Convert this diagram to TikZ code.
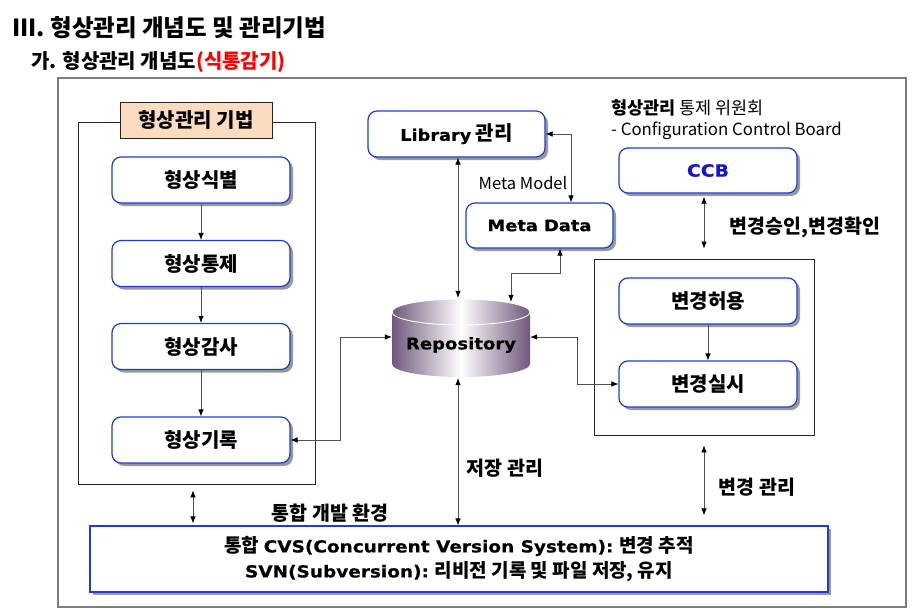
\documentclass[tikz,border=0pt]{standalone}
\usepackage{fontspec}
\setmainfont{Noto Sans CJK KR}
\newfontfamily\heavy[FakeStretch=1.12, FakeBold=0.5]{DejaVu Sans Bold}
\newcommand\heavytext[2]{{\heavy\fontsize{#1}{25}\selectfont #2}}
\usetikzlibrary{arrows.meta,shadows}

\definecolor{bluebd}{RGB}{30,60,210}
\definecolor{peach}{RGB}{252,220,192}
\definecolor{repopurple}{RGB}{112,88,124}
\definecolor{framegray}{RGB}{125,125,125}
\definecolor{linegray}{RGB}{80,80,80}
\definecolor{ccbblue}{RGB}{20,20,200}

\tikzset{
  rbox/.style={draw=bluebd, line width=1.2pt, rounded corners=9pt, fill=white,
    minimum width=178pt, minimum height=46pt, inner sep=0pt,
    font=\bfseries\fontsize{20}{24}\selectfont,
    drop shadow={shadow xshift=3pt, shadow yshift=-3pt, fill=gray!80, opacity=1}},
  conn/.style={draw=linegray, line width=0.7pt},
  tip/.tip={Latex[length=7pt,width=5.5pt,color=black]},
  both/.style={conn, tip-tip},
  fwd/.style={conn, -tip},
  frm/.style={draw=black!85, line width=0.8pt},
  lbl/.style={font=\bfseries\fontsize{19.5}{23}\selectfont, inner sep=0pt},
}

\begin{document}
\begin{tikzpicture}[x=1pt, y=-1pt]
\useasboundingbox (0,0) rectangle (919,614);

% titles
\node[anchor=west, inner sep=0pt, font=\bfseries\fontsize{23.5}{27}\selectfont] (title) at (12,28) {III. 형상관리 개념도 및 관리기법};
\node[anchor=west, inner sep=0pt, font=\bfseries\fontsize{20}{24}\selectfont] (subtitle) at (31,62) {가. 형상관리 개념도\textcolor{red}{(식통감기)}};

% outer frame
\node[draw=framegray, line width=1.8pt, minimum width=848pt, minimum height=529pt, inner sep=0pt] (outer) at (482,342.5) {};

% left technique frame
\node[frm, minimum width=237pt, minimum height=362pt, inner sep=0pt] (left) at (196.5,303) {};
\node[draw=black!85, line width=0.8pt, fill=peach, minimum width=152pt, minimum height=36pt, inner sep=0pt,
  font=\bfseries\fontsize{20}{24}\selectfont] (tech) at (196,120) {형상관리 기법};

\node[rbox] (s1) at (201,180) {형상식별};
\node[rbox] (s2) at (201,263.5) {형상통제};
\node[rbox] (s3) at (201,346.5) {형상감사};
\node[rbox] (s4) at (201,440) {형상기록};
\draw[fwd] (s1) -- (s2);
\draw[fwd] (s2) -- (s3);
\draw[fwd] (s3) -- (s4);

% library / meta
\node[rbox, minimum width=177pt] (lib) at (456.5,134) {\heavytext{15.8}{Library} 관리};
\node[rbox, minimum width=147pt, minimum height=45pt] (meta) at (539.5,225.5) {\heavytext{15.9}{Meta Data}};
\node[inner sep=0pt, font=\fontsize{16.5}{18}\selectfont] (mm) at (523,183) {Meta Model};

% repository
\shade[left color=repopurple, right color=repopurple, middle color=white]
  (392,312) -- (392,364) arc[start angle=180, end angle=360, x radius=69pt, y radius=13pt] -- (530,312) -- cycle;
\shade[left color=repopurple, right color=repopurple, middle color=white]
  (461,312) ellipse[x radius=69pt, y radius=13pt];
\draw[white, line width=0.9pt] (461,312) ellipse[x radius=69pt, y radius=13pt];
\node[minimum width=138pt, minimum height=80pt, inner sep=0pt] (repo) at (461,338) {};
\node[inner sep=0pt] (repotext) at (461,345) {\heavytext{16.1}{Repository}};

% CCB
\node[anchor=west, inner sep=0pt, font=\fontsize{17.5}{20}\selectfont] (ccbt1) at (611,108) {\textbf{형상관리} 통제 위원회};
\node[anchor=west, inner sep=0pt, font=\fontsize{16.8}{20}\selectfont] (ccbt2) at (611,131) {- Configuration Control Board};
\node[rbox, minimum width=178pt, minimum height=45pt, text=ccbblue] (ccb) at (708,170.5) {\heavytext{16.8}{CCB}};

% change frame
\node[frm, minimum width=220pt, minimum height=176pt, inner sep=0pt] (chg) at (704,347) {};
\node[rbox] (c1) at (708,301) {변경허용};
\node[rbox] (c2) at (708,384) {변경실시};
\draw[fwd] (c1) -- (c2);

% CVS box
\node[draw=bluebd, line width=1.2pt, fill=white, minimum width=738pt, minimum height=66pt, inner sep=0pt,
  align=center, font=\bfseries\fontsize{19}{25}\selectfont,
  drop shadow={shadow xshift=3pt, shadow yshift=-3pt, fill=gray!80, opacity=1}] (cvs) at (459,559)
  {통합 \heavytext{16.5}{CVS(Concurrent Version System):} 변경 추적\\\heavytext{16.5}{SVN(Subversion):} 리비전 기록 및 파일 저장, 유지};

% connectors
\draw[both] (lib.east) -| ([xshift=31.5pt]meta.north);
\draw[both] ([xshift=1.5pt]lib.south) -- ([xshift=1.5pt]lib.south |- repo.north);
\draw[both] ([xshift=20.5pt]meta.south) -- ++(0,25) -| ([xshift=50pt,yshift=-4pt]repo.north);
\draw[both] (s4.east) -- ++(50,0) |- ([yshift=1pt]repo.west);
\draw[both] ([yshift=1pt]repo.east) -- ++(47,0) |- (c2.west);
\draw[both] ([xshift=-3pt]repo.south) -- ([xshift=-3pt]repo.south |- cvs.north);
\draw[both, shorten <=3pt, shorten >=10pt] ([xshift=-4pt]ccb.south) -- ([xshift=-4pt]ccb.south |- chg.north);
\draw[both, shorten <=10pt, shorten >=10pt] (chg.south) -- (chg.south |- cvs.north);
\draw[both, shorten <=6pt, shorten >=2pt] ([xshift=-3.5pt]left.south) -- ([xshift=-3.5pt]left.south |- cvs.north);

% labels
\node[lbl] (l1) at (505,468) {저장 관리};
\node[lbl] (l2) at (757,487) {변경 관리};
\node[lbl] (l3) at (330,513) {통합 개발 환경};
\node[lbl] (l4) at (805,227) {변경승인,변경확인};
\end{tikzpicture}
\end{document}
